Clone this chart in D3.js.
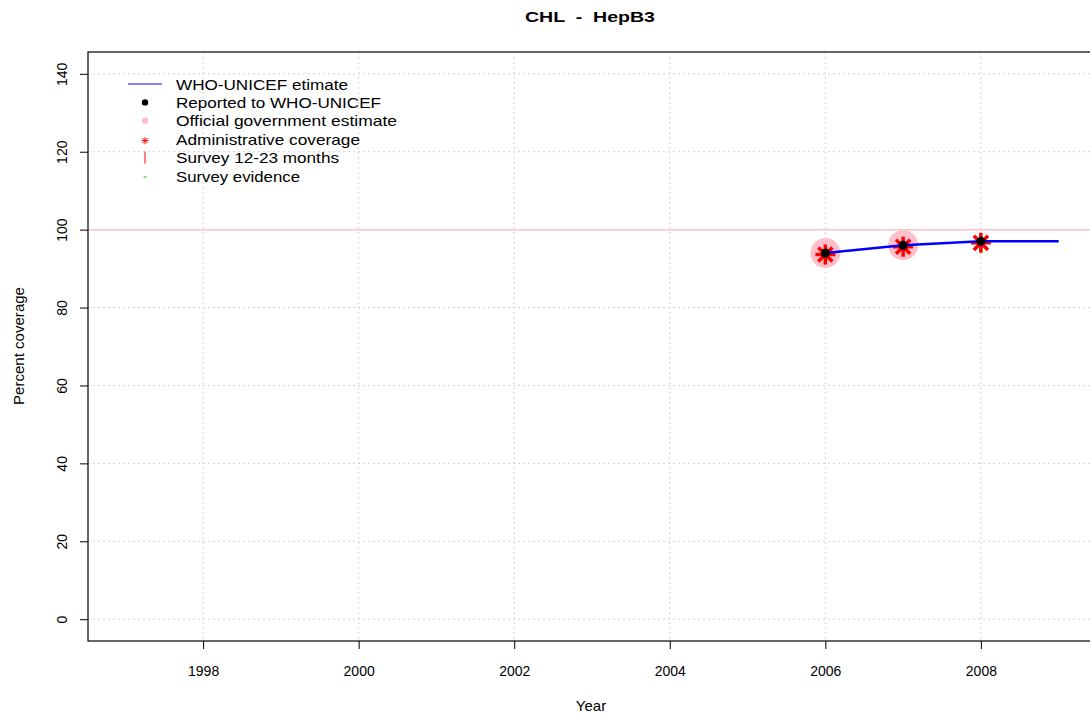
<!DOCTYPE html>
<html><head><meta charset="utf-8">
<script src="https://cdn.jsdelivr.net/npm/d3@7"></script>
<style>body{margin:0;background:#fff}svg{display:block;font-family:"Liberation Sans",Arial,sans-serif}</style>
</head><body><svg id="c" width="1090" height="718"></svg>
<script>
const estYears = [2006, 2007, 2008, 2009];
const estValues = [94, 96, 97, 97];
const reportedYears = [2006, 2007, 2008];
const reportedValues = [94, 96, 97];
const officialYears = [2006, 2007];
const officialValues = [94, 96];
const adminYears = [2006, 2007, 2008];
const adminValues = [94, 96, 97];
const xTicks = [1998, 2000, 2002, 2004, 2006, 2008];
const yTicks = [0, 20, 40, 60, 80, 100, 120, 140];
const legendLabels = ["WHO-UNICEF etimate","Reported to WHO-UNICEF","Official government estimate","Administrative coverage","Survey 12-23 months","Survey evidence"];
const legendWidths = [172, 205, 221, 184, 163, 124];

const svg = d3.select("#c");
const L = 88, R = 1096, T = 52, B = 641;
const x = d3.scaleLinear().domain([1996.52, 2009.48]).range([L, R]);
const y = d3.scaleLinear().domain([-5.6, 145.6]).range([B, T]);

// grid
const g = svg.append("g");
g.selectAll(".gx").data(xTicks).join("line")
  .attr("x1", d => x(d)).attr("x2", d => x(d)).attr("y1", T).attr("y2", B)
  .attr("stroke", "#d3d3d3").attr("stroke-dasharray", "2,3");
g.selectAll(".gy").data(yTicks).join("line")
  .attr("x1", L).attr("x2", R).attr("y1", d => y(d)).attr("y2", d => y(d))
  .attr("stroke", "#d3d3d3").attr("stroke-dasharray", "2,3");

// 100% line
svg.append("line").attr("x1", L).attr("x2", R).attr("y1", y(100)).attr("y2", y(100))
  .attr("stroke", "#ffc0cb").attr("stroke-width", 1.5);

// official circles
svg.selectAll(".off").data(officialYears).join("circle")
  .attr("cx", d => x(d)).attr("cy", (d, i) => y(officialValues[i])).attr("r", 15)
  .attr("fill", "#ffc0cb");

// admin stars
function star(cx, cy, r) {
  const p = d3.path();
  for (let k = 0; k < 4; k++) {
    const a = k * Math.PI / 4;
    p.moveTo(cx - r * Math.cos(a), cy - r * Math.sin(a));
    p.lineTo(cx + r * Math.cos(a), cy + r * Math.sin(a));
  }
  return p.toString();
}
svg.selectAll(".adm").data(adminYears).join("path")
  .attr("d", (d, i) => star(x(d), y(adminValues[i]) + 1.5, 10))
  .attr("stroke", "#ff0000").attr("stroke-width", 3.5).attr("fill", "none");

// estimate line
const line = d3.line().x(d => x(d[0])).y(d => y(d[1]));
svg.append("path").datum(estYears.map((d, i) => [d, estValues[i]]))
  .attr("d", line).attr("fill", "none").attr("stroke", "#0000ff").attr("stroke-width", 2.6);

// reported dots
svg.selectAll(".rep").data(reportedYears).join("circle")
  .attr("cx", d => x(d)).attr("cy", (d, i) => y(reportedValues[i])).attr("r", 4.5)
  .attr("fill", "#000");

// box
svg.append("rect").attr("x", L).attr("y", T).attr("width", R - L).attr("height", B - T)
  .attr("fill", "none").attr("stroke", "#000").attr("stroke-width", 1.2);

// axes
const xa = svg.append("g").attr("transform", `translate(0,${B})`)
  .call(d3.axisBottom(x).tickValues(xTicks).tickFormat(d3.format("d")).tickSize(8).tickSizeOuter(0));
xa.select(".domain").remove();
xa.selectAll("text").attr("font-size", 14).attr("dy", 0).attr("y", 35)
  .attr("font-family", "Liberation Sans, Arial").attr("fill", "#000");
const ya = svg.append("g").attr("transform", `translate(${L},0)`)
  .call(d3.axisLeft(y).tickValues(yTicks).tickSize(8).tickSizeOuter(0));
ya.select(".domain").remove();
ya.selectAll("text").attr("font-size", 14).attr("x", 0).attr("dy", 0)
  .attr("font-family", "Liberation Sans, Arial").attr("fill", "#000")
  .attr("text-anchor", "middle")
  .attr("transform", "translate(-21,0) rotate(-90)")
  .attr("y", 0);
svg.selectAll(".tick line").attr("stroke", "#000");

// labels
svg.append("text").attr("x", 590).attr("y", 22).attr("text-anchor", "middle")
  .attr("font-weight", "bold").attr("font-size", 14).attr("textLength", 130)
  .attr("lengthAdjust", "spacingAndGlyphs").attr("xml:space", "preserve").text("CHL  -  HepB3");
svg.append("text").attr("x", 591).attr("y", 711).attr("text-anchor", "middle")
  .attr("font-size", 15).text("Year");
svg.append("text").attr("transform", "translate(24,346) rotate(-90)").attr("text-anchor", "middle")
  .attr("font-size", 14).attr("textLength", 118).attr("lengthAdjust", "spacingAndGlyphs").text("Percent coverage");

// legend
const lg = svg.append("g");
const rowY = i => 84 + i * 18.4;
lg.selectAll("text").data(legendLabels).join("text")
  .attr("x", 176).attr("y", (d, i) => rowY(i) + 5.5)
  .attr("font-size", 15).attr("textLength", (d, i) => legendWidths[i])
  .attr("lengthAdjust", "spacingAndGlyphs").attr("fill", "#000").text(d => d);
lg.append("line").attr("x1", 128).attr("x2", 162).attr("y1", rowY(0)).attr("y2", rowY(0))
  .attr("stroke", "#0000ff").attr("stroke-width", 1.2);
lg.append("circle").attr("cx", 145).attr("cy", rowY(1)).attr("r", 3.2).attr("fill", "#000");
lg.append("circle").attr("cx", 145).attr("cy", rowY(2)).attr("r", 3.2).attr("fill", "#ffc0cb");
lg.append("path").attr("d", star(145, rowY(3) + 1.5, 3.5)).attr("stroke", "#ff0000").attr("stroke-width", 1);
lg.append("line").attr("x1", 145).attr("x2", 145).attr("y1", rowY(4) - 6).attr("y2", rowY(4) + 6)
  .attr("stroke", "#ff0000").attr("stroke-width", 1);
lg.append("line").attr("x1", 143.5).attr("x2", 146.5).attr("y1", rowY(5) + 1).attr("y2", rowY(5) + 1)
  .attr("stroke", "#00cc00").attr("stroke-width", 1);
</script></body></html>
